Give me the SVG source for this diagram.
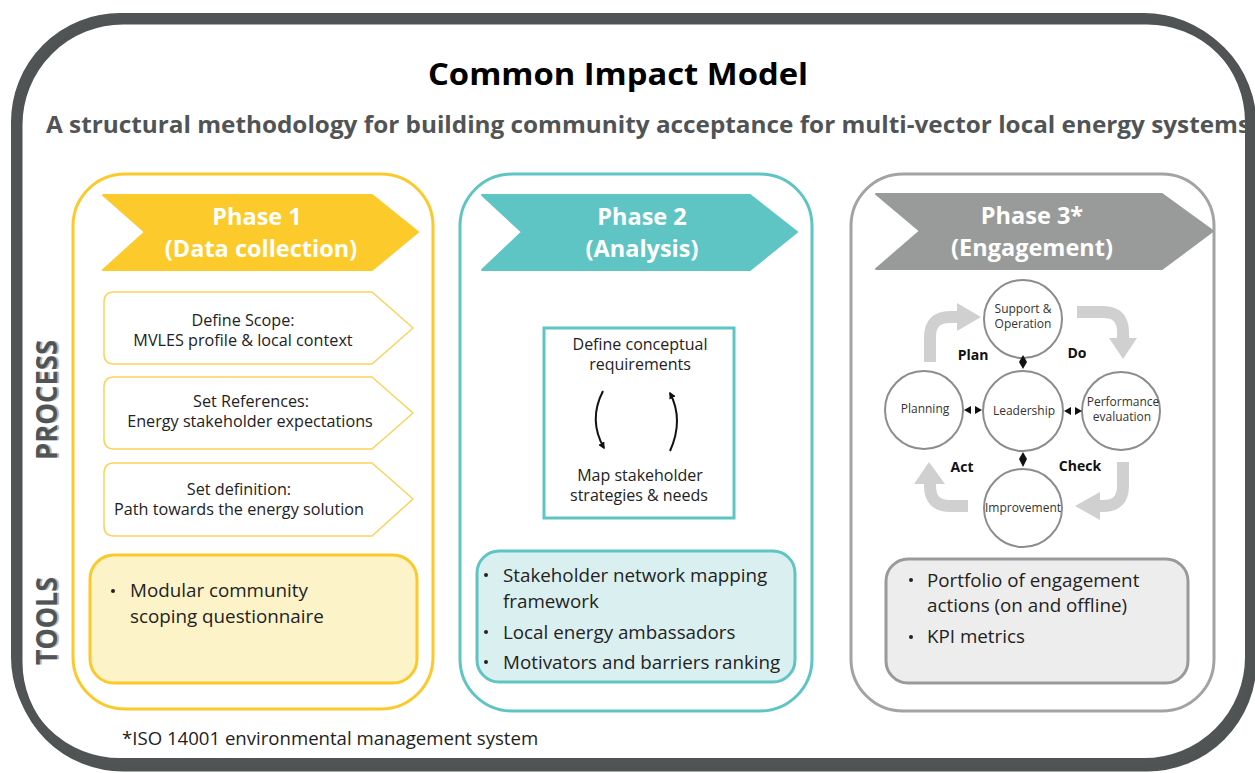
<svg xmlns="http://www.w3.org/2000/svg" width="1255" height="773" viewBox="0 0 1255 773">
<style>
.t{font-family:"Open Sans","Liberation Sans",sans-serif;}
.b{font-weight:700;}
.body{font-family:"Open Sans","Liberation Sans",sans-serif;fill:#222;}
.ph{font-family:"Open Sans","Liberation Sans",sans-serif;font-weight:700;fill:#fff;font-size:23.5px;text-anchor:middle;}
.proc{fill:#fff;stroke:#FCD25A;stroke-width:1.5;stroke-linejoin:round;}
.circ{fill:#fff;stroke:#8C8C8C;stroke-width:2;}
.ct{font-family:"Open Sans","Liberation Sans",sans-serif;font-size:12px;fill:#333;text-anchor:middle;}
.cyc{fill:none;stroke:#D0D0D0;stroke-width:12;}
.cyh{fill:#D0D0D0;}
.lbl{font-family:"Open Sans","Liberation Sans",sans-serif;font-weight:700;font-size:14px;fill:#111;text-anchor:middle;}
.side{font-family:"Open Sans","Liberation Sans",sans-serif;font-weight:700;font-size:28px;}
</style>
<defs>
<marker id="ah" viewBox="0 0 10 10" refX="8" refY="5" markerWidth="7" markerHeight="7" orient="auto-start-reverse" markerUnits="userSpaceOnUse">
<path d="M0,0 L10,5 L0,10 Z" fill="#111"/>
</marker>
</defs>
<rect x="0" y="0" width="1255" height="773" fill="#fff"/>
<g id="frame">
<rect x="18" y="20" width="1234" height="747" rx="105" fill="none" stroke="#4F5354" stroke-width="9"/>
<rect x="15" y="17" width="1234" height="745" rx="105" fill="none" stroke="#505455" stroke-width="8"/>
</g>
<g id="titles">
<text class="t b" x="618" y="85" font-size="30" text-anchor="middle" fill="#000" textLength="380" lengthAdjust="spacingAndGlyphs">Common Impact Model</text>
<text class="t b" x="46" y="133" font-size="23" fill="#505455" textLength="1204" lengthAdjust="spacingAndGlyphs">A structural methodology for building community acceptance for multi-vector local energy systems</text>
</g>
<g id="side-labels">
<text class="side" transform="translate(59,400) rotate(-90)" text-anchor="middle" fill="#B8B8B8" textLength="120" lengthAdjust="spacingAndGlyphs">PROCESS</text>
<text class="side" transform="translate(57,400) rotate(-90)" text-anchor="middle" fill="#505455" textLength="120" lengthAdjust="spacingAndGlyphs">PROCESS</text>
<text class="side" transform="translate(59,621) rotate(-90)" text-anchor="middle" fill="#B8B8B8" textLength="88" lengthAdjust="spacingAndGlyphs">TOOLS</text>
<text class="side" transform="translate(57,621) rotate(-90)" text-anchor="middle" fill="#505455" textLength="88" lengthAdjust="spacingAndGlyphs">TOOLS</text>
</g>

<g id="phase1">
<rect x="73" y="174" width="360" height="535" rx="52" fill="#fff" stroke="#FCC92B" stroke-width="3"/>
<path d="M103,195 H372 L418,232 L372,270 H103 L145,232 Z" fill="#FCCB2B" stroke="#FCCB2B" stroke-width="2" stroke-linejoin="round"/>
<text class="ph" x="257" y="225">Phase 1</text>
<text class="ph" x="261" y="257">(Data collection)</text>
<g id="p1-scope">
<path class="proc" d="M114,292 H372 L413,328 L372,364 H114 Q104,364 104,354 V302 Q104,292 114,292 Z"/>
<text class="body" x="243" y="326" font-size="16.2" text-anchor="middle">Define Scope:</text>
<text class="body" x="243" y="346" font-size="16.2" text-anchor="middle">MVLES profile &amp; local context</text>
</g>
<g id="p1-ref">
<path class="proc" d="M114,377 H372 L413,413 L372,449 H114 Q104,449 104,439 V387 Q104,377 114,377 Z"/>
<text class="body" x="251" y="407" font-size="16.2" text-anchor="middle">Set References:</text>
<text class="body" x="250" y="427" font-size="16.2" text-anchor="middle">Energy  stakeholder expectations</text>
</g>
<g id="p1-def">
<path class="proc" d="M114,463 H372 L413,499 L372,536 H114 Q104,536 104,526 V473 Q104,463 114,463 Z"/>
<text class="body" x="239" y="495" font-size="16.2" text-anchor="middle">Set definition:</text>
<text class="body" x="239" y="515" font-size="16.2" text-anchor="middle">Path towards the energy solution</text>
</g>
<g id="p1-tools">
<rect x="90" y="555" width="327" height="128" rx="24" fill="#FCF3C9" stroke="#FCC92B" stroke-width="3"/>
<circle cx="113" cy="591" r="2" fill="#222"/>
<text class="body" x="130" y="597" font-size="18.8">Modular community</text>
<text class="body" x="130" y="623" font-size="18.8">scoping questionnaire</text>
</g>
</g>

<g id="phase2">
<rect x="460" y="174" width="352" height="537" rx="52" fill="#fff" stroke="#5EC5C4" stroke-width="3"/>
<path d="M482,195 H750 L797,232 L750,270 H482 L522,232 Z" fill="#5EC5C4" stroke="#5EC5C4" stroke-width="2" stroke-linejoin="round"/>
<text class="ph" x="642" y="225">Phase 2</text>
<text class="ph" x="642" y="257">(Analysis)</text>
<g id="p2-box">
<rect x="544" y="328" width="190" height="190" fill="#fff" stroke="#5EC5C4" stroke-width="3"/>
<text class="body" x="640" y="350" font-size="16" text-anchor="middle">Define conceptual</text>
<text class="body" x="640" y="370" font-size="16" text-anchor="middle">requirements</text>
<text class="body" x="640" y="481" font-size="16" text-anchor="middle">Map stakeholder</text>
<text class="body" x="639" y="501" font-size="16" text-anchor="middle">strategies &amp; needs</text>
</g>
<g id="p2-tools">
<rect x="477" y="551" width="318" height="131" rx="22" fill="#DAEFF0" stroke="#5EC5C4" stroke-width="3"/>
<circle cx="486" cy="575" r="2" fill="#222"/>
<text class="body" x="503" y="582" font-size="18.8">Stakeholder network mapping</text>
<text class="body" x="503" y="608" font-size="18.8">framework</text>
<circle cx="486" cy="632" r="2" fill="#222"/>
<text class="body" x="503" y="639" font-size="18.8">Local energy ambassadors</text>
<circle cx="486" cy="662" r="2" fill="#222"/>
<text class="body" x="503" y="669" font-size="18.8">Motivators and barriers ranking</text>
</g>
</g>

<g id="phase3">
<rect x="851" y="174" width="363" height="537" rx="52" fill="#fff" stroke="#A3A3A3" stroke-width="3"/>
<path d="M876,194 H1162 L1213,231 L1162,269 H876 L920,231 Z" fill="#999B9B" stroke="#999B9B" stroke-width="2" stroke-linejoin="round"/>
<text class="ph" x="1032" y="224">Phase 3*</text>
<text class="ph" x="1032" y="256">(Engagement)</text>
<g id="n-support">
<circle class="circ" cx="1023" cy="319" r="39"/>
<text class="ct" x="1023" y="313" font-size="12.5">Support &amp;</text>
<text class="ct" x="1023" y="328" font-size="12.5">Operation</text>
</g>
<g id="n-leadership">
<circle class="circ" cx="1023" cy="411" r="40"/>
<text class="ct" x="1024" y="415">Leadership</text>
</g>
<g id="n-planning">
<circle class="circ" cx="924" cy="410" r="39"/>
<text class="ct" x="925" y="413">Planning</text>
</g>
<g id="n-performance">
<circle class="circ" cx="1121" cy="411" r="39"/>
<text class="ct" x="1123" y="406">Performance</text>
<text class="ct" x="1122" y="421">evaluation</text>
</g>
<g id="n-improvement">
<circle class="circ" cx="1023" cy="508" r="39"/>
<text class="ct" x="1023" y="512" font-size="10">Improvement</text>
</g>
<g id="p3-tools">
<rect x="886" y="559" width="302" height="124" rx="22" fill="#EDEDED" stroke="#9A9A9A" stroke-width="3"/>
<circle cx="911" cy="580" r="2" fill="#222"/>
<text class="body" x="927" y="587" font-size="18.8">Portfolio of engagement</text>
<text class="body" x="927" y="612" font-size="18.8">actions (on and offline)</text>
<circle cx="911" cy="637" r="2" fill="#222"/>
<text class="body" x="927" y="643" font-size="18.8">KPI metrics</text>
</g>
</g>

<g id="connectors">
<path d="M603,391 Q588,420 604,448" fill="none" stroke="#111" stroke-width="2" marker-end="url(#ah)"/>
<path d="M670,451 Q684,420 670,393" fill="none" stroke="#111" stroke-width="2" marker-end="url(#ah)"/>
<path class="cyc" d="M930,362 V337 Q930,317 950,317 H959"/>
<path class="cyh" d="M957,303 L981,317 L957,331 Z"/>
<path class="cyc" d="M1077,312 H1103 Q1123,312 1123,332 V340"/>
<path class="cyh" d="M1109,338 L1137,338 L1123,359 Z"/>
<path class="cyc" d="M1123,462 V486 Q1123,506 1103,506 H1098"/>
<path class="cyh" d="M1100,492 L1100,520 L1075,506 Z"/>
<path class="cyc" d="M968,506 H950 Q930,506 930,486 V482"/>
<path class="cyh" d="M914,484 L945,484 L929,462 Z"/>
<path d="M1023,355 L1027,362 L1023,369 L1019,362 Z" fill="#111"/>
<path d="M1023,452 L1027,459 L1023,467 L1019,459 Z" fill="#111"/>
<path d="M964,410 L971,406 L971,414 Z M982,410 L975,406 L975,414 Z" fill="#111"/>
<path d="M1064,411 L1071,407 L1071,415 Z M1082,411 L1075,407 L1075,415 Z" fill="#111"/>
<text class="lbl" x="973" y="360">Plan</text>
<text class="lbl" x="1077" y="358">Do</text>
<text class="lbl" x="962" y="472">Act</text>
<text class="lbl" x="1080" y="471">Check</text>
</g>

<text class="body" x="122" y="745" font-size="18.6">*ISO 14001 environmental management system</text>
</svg>
